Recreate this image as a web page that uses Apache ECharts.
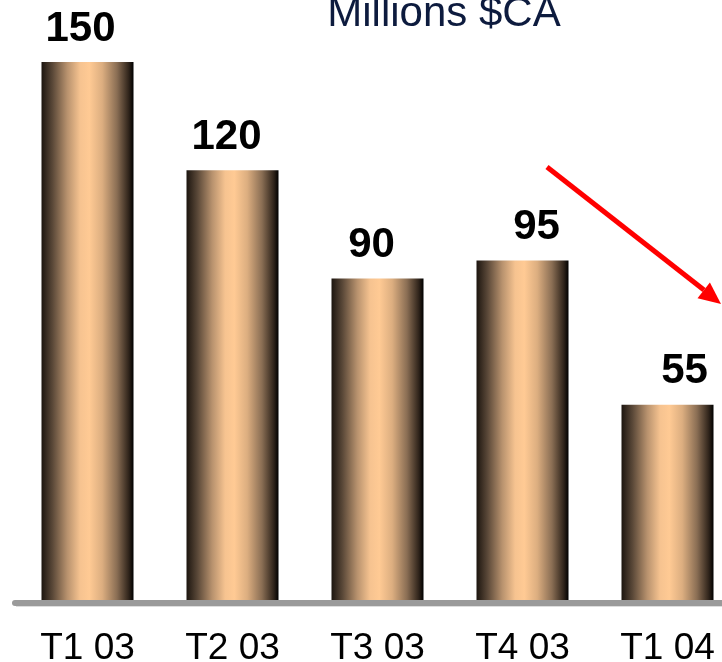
<!DOCTYPE html>
<html>
<head>
<meta charset="utf-8">
<script src="https://cdn.jsdelivr.net/npm/echarts@6/dist/echarts.min.js"></script>
<style>
  html, body { margin: 0; padding: 0; background: #ffffff; }
  #chart { width: 722px; height: 662px; }
</style>
</head>
<body>
<div id="chart"></div>
<script>
// Quarterly figures, millions of Canadian dollars
const quarters = ['T1 03', 'T2 03', 'T3 03', 'T4 03', 'T1 04'];
const amounts = [150, 120, 90, 95, 55];
const unitTitle = 'Millions $CA';

const FONT = '"Liberation Sans", Arial, Helvetica, sans-serif';

// Cylinder-like shading across each bar
const barFill = new echarts.graphic.LinearGradient(0, 0, 1, 0, [
  { offset: 0.00, color: '#1c150f' },
  { offset: 0.12, color: '#5a4838' },
  { offset: 0.28, color: '#b8926e' },
  { offset: 0.42, color: '#f6c390' },
  { offset: 0.52, color: '#ffca94' },
  { offset: 0.66, color: '#dcae80' },
  { offset: 0.82, color: '#8a6e54' },
  { offset: 0.95, color: '#2e231a' },
  { offset: 1.00, color: '#000000' }
]);

// Hand-placed value labels (horizontal nudge per bar)
const labelShift = [-7, -6, -6, 14, 17];

const chart = echarts.init(document.getElementById('chart'), null, { renderer: 'canvas' });

chart.setOption({
  animation: false,
  backgroundColor: '#ffffff',
  title: {
    text: unitTitle,
    left: 439,
    textAlign: 'center',
    top: -12,
    textStyle: { fontFamily: FONT, fontSize: 42, fontWeight: 'normal', color: '#0d1b3e' }
  },
  // the plot runs slightly past the right edge, cutting the last category short
  grid: { left: 15, width: 725, top: 26, bottom: 59, containLabel: false, outerBoundsMode: 'none' },
  xAxis: {
    type: 'category',
    data: quarters,
    z: 5,
    axisLine: { show: true, lineStyle: { color: '#9a9a9a', width: 6 } },
    axisTick: { show: false },
    axisLabel: { fontFamily: FONT, fontSize: 37, color: '#000000', margin: 27, hideOverlap: false }
  },
  yAxis: {
    type: 'value',
    min: 0,
    max: 160,
    show: false,
    splitLine: { show: false }
  },
  series: [{
    type: 'bar',
    barWidth: 92,
    data: amounts.map((v, i) => ({
      value: v,
      label: { offset: [labelShift[i], 0] }
    })),
    itemStyle: { color: barFill },
    label: {
      show: true,
      position: 'top',
      distance: 12,
      fontFamily: FONT,
      fontSize: 42,
      fontWeight: 'bold',
      color: '#000000'
    }
  }],
  graphic: [
    // faint highlight under the baseline
    {
      type: 'line',
      shape: { x1: 16, y1: 606.5, x2: 722, y2: 606.5 },
      style: { stroke: '#dddddd', lineWidth: 1 },
      z: 1
    },
    // downward trend arrow
    {
      type: 'line',
      shape: { x1: 547, y1: 167, x2: 704, y2: 290 },
      style: { stroke: '#ff0000', lineWidth: 5 },
      z: 10
    },
    {
      type: 'polygon',
      shape: { points: [[721, 304], [697.5, 298.3], [709.9, 282.5]] },
      style: { fill: '#ff0000' },
      z: 10
    }
  ]
});
</script>
</body>
</html>
